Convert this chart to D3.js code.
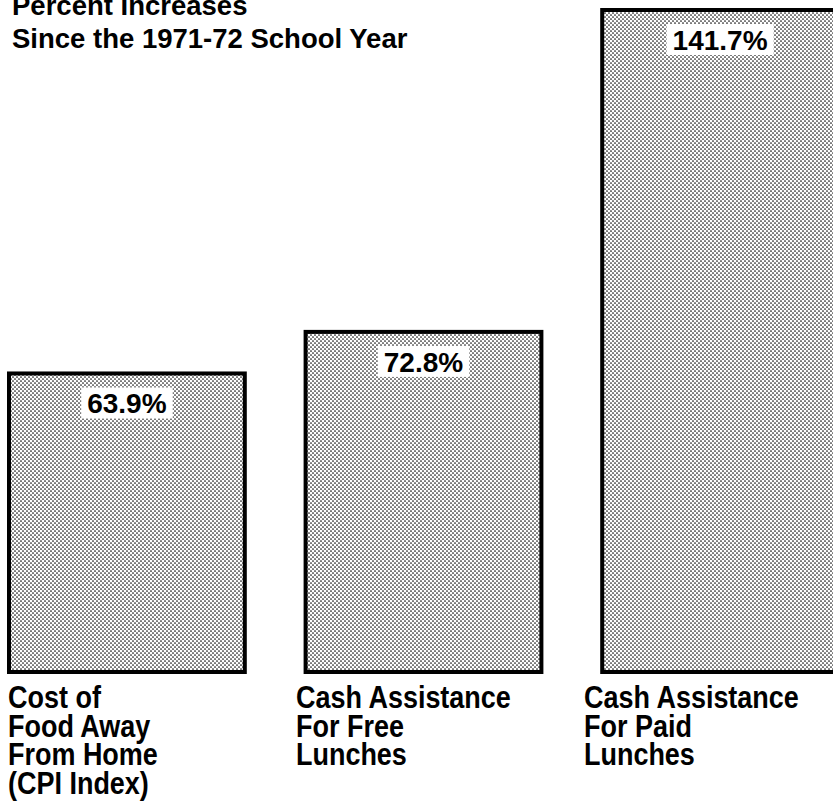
<!DOCTYPE html>
<html>
<head>
<meta charset="utf-8">
<script src="https://d3js.org/d3.v7.min.js"></script>
<style>
    body { margin: 0; background: #fff; }
    text { font-family: "Liberation Sans", Arial, Helvetica, sans-serif; font-weight: bold; fill: #000; }
</style>
</head>
<body>
<div id="chart"></div>
<script>

    // data
    var categories = ["food", "free", "paid"];
    var values = [63.9, 72.8, 141.7];
    var valueLabels = ["63.9%", "72.8%", "141.7%"];
    var categoryLines = [
        ["Cost of", "Food Away", "From Home", "(CPI Index)"],
        ["Cash Assistance", "For Free", "Lunches"],
        ["Cash Assistance", "For Paid", "Lunches"]
    ];
    var titleLines = ["Percent Increases", "Since the 1971-72 School Year"];

    var width = 833, height = 811;

    var svg = d3.select("#chart")
        .append("svg")
        .attr("width", width)
        .attr("height", height);

    // halftone dot fill like the printed original
    var pat = svg.append("defs").append("pattern")
        .attr("id", "dots")
        .attr("patternUnits", "userSpaceOnUse")
        .attr("width", 4)
        .attr("height", 4);
    pat.append("rect").attr("width", 4).attr("height", 4).attr("fill", "#fff");
    pat.append("circle").attr("cx", 1).attr("cy", 1).attr("r", 0.85).attr("fill", "#111");
    pat.append("circle").attr("cx", 3).attr("cy", 3).attr("r", 0.85).attr("fill", "#111");

    var x = d3.scaleBand()
        .domain(categories)
        .range([9, 838])
        .paddingInner(0.205)
        .paddingOuter(0);

    // labels under the bars sit a bit left of each bar
    var xLabel = d3.scaleBand()
        .domain(categories)
        .range([8, 8 + 3 * 288]);

    var y = d3.scaleLinear()
        .domain([0, 141.7])
        .range([672, 10]);

    var data = categories.map(function (c, i) {
        return { cat: c, value: values[i], label: valueLabels[i], lines: categoryLines[i] };
    });

    // bars
    svg.append("g")
        .selectAll("rect")
        .data(data)
        .enter()
        .append("rect")
        .attr("x", function (d) { return x(d.cat); })
        .attr("y", function (d) { return y(d.value); })
        .attr("width", x.bandwidth())
        .attr("height", function (d) { return y(0) - y(d.value); })
        .attr("fill", "url(#dots)")
        .attr("stroke", "#000")
        .attr("stroke-width", 4);

    // value labels on white boxes
    var vl = svg.append("g")
        .selectAll("g")
        .data(data)
        .enter()
        .append("g")
        .attr("transform", function (d) {
            return "translate(" + (x(d.cat) + x.bandwidth() / 2) + "," + (y(d.value) + 40) + ")";
        });

    vl.append("text")
        .attr("text-anchor", "middle")
        .style("font-size", "28px")
        .text(function (d) { return d.label; })
        .each(function () {
            var bb = this.getBBox();
            d3.select(this.parentNode).insert("rect", "text")
                .attr("x", bb.x - 6)
                .attr("y", -26)
                .attr("width", bb.width + 12)
                .attr("height", 31)
                .attr("fill", "#fff");
        });

    // category labels (narrow type in the original)
    var cl = svg.append("g")
        .selectAll("g")
        .data(data)
        .enter()
        .append("g");

    cl.selectAll("text")
        .data(function (d) { return d.lines.map(function (l, j) { return { x: xLabel(d.cat), j: j, t: l }; }); })
        .enter()
        .append("text")
        .attr("transform", function (d) { return "translate(" + d.x + "," + (708 + d.j * 28.5) + ") scale(0.87,1)"; })
        .style("font-size", "31px")
        .text(function (d) { return d.t; });

    // title, top line cut off by the scan
    svg.append("g")
        .selectAll("text")
        .data(titleLines)
        .enter()
        .append("text")
        .attr("x", 12)
        .attr("y", function (d, i) { return 15 + i * 33; })
        .style("font-size", "27.5px")
        .text(function (d) { return d; });

</script>
</body>
</html>
